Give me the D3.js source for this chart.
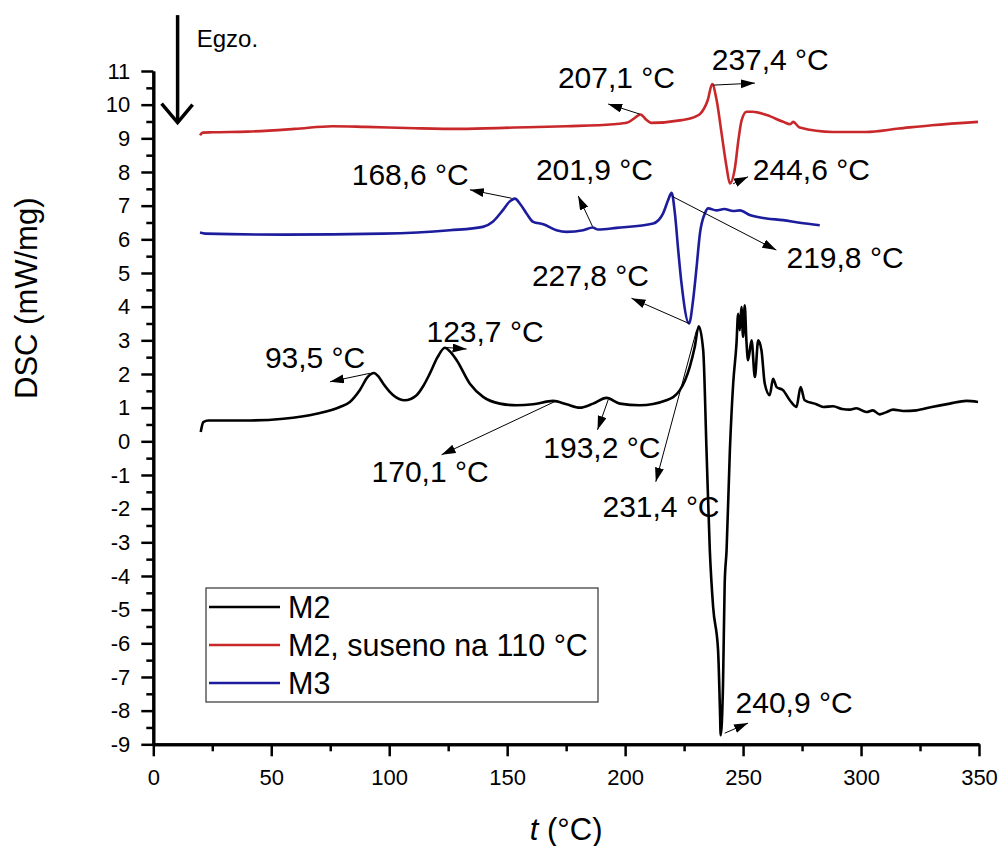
<!DOCTYPE html>
<html>
<head>
<meta charset="utf-8">
<script src="https://cdn.jsdelivr.net/npm/d3@7"></script>
<style>
  body { margin: 0; background: #fff; }
  text { font-family: "Liberation Sans", Arial, sans-serif; fill: #000; }
</style>
</head>
<body>
<div id="viz"></div>
<script>
const width = 1002;
const height = 846;

// DSC curves, [t (°C), DSC (mW/mg)]
const m2Points = [
  [20.1, 0.28], [21.2, 0.57], [23.3, 0.62], [41, 0.62], [55.1, 0.67], [69.2, 0.82], [79.1, 1.02],
  [83.3, 1.17], [87.5, 1.52], [91, 1.92], [93.5, 2.03], [95.5, 1.92], [97.5, 1.71], [101.7, 1.37],
  [106.6, 1.22], [111.6, 1.37], [114.5, 1.65], [117.2, 2.01], [120.5, 2.5], [123.6, 2.78],
  [126, 2.65], [128.6, 2.41], [134.2, 1.71], [139.8, 1.32], [146.9, 1.12], [154, 1.07], [161, 1.10],
  [169.5, 1.20], [175.2, 1.10], [180.8, 1.00], [186.4, 1.12], [192.1, 1.29], [197.8, 1.12],
  [206.2, 1.07], [217.5, 1.22], [223.2, 1.52], [227.4, 2.21], [229.5, 2.80], [231.2, 3.42],
  [233.1, 2.70], [234.5, -0.27], [235.9, -3.24], [237.3, -4.92], [239.4, -6.21], [240.2, -7.99],
  [240.5, -8.73], [241.5, -7.20], [242.2, -4.23], [243, -3.24], [244.4, -0.27], [245.8, 1.71],
  [247.2, 2.90], [247.9, 3.79], [248.6, 3.30], [249.3, 3.99], [250, 3.10], [250.7, 4.04],
  [251.4, 3.00], [252.1, 2.41], [253.6, 3.00], [255, 1.91], [256.4, 3.00], [257.8, 2.70],
  [259.2, 1.71], [261.3, 1.37], [262.7, 1.86], [264.2, 1.61], [266.9, 1.52], [269.8, 1.22],
  [272.6, 1.02], [274.4, 1.61], [276.1, 1.22], [281.1, 1.10], [284, 1.02], [288.1, 1.04],
  [292, 0.96], [295.2, 0.94], [298, 0.98], [302.3, 0.87], [305, 0.92], [307.9, 0.80],
  [310.5, 0.86], [313.6, 0.94], [318, 0.90], [323.5, 0.92], [330, 1.02], [337.6, 1.12],
  [344.7, 1.20], [349.6, 1.17]
];
const m2DriedPoints = [
  [19.8, 9.09], [21, 9.17], [25, 9.18], [40, 9.2], [60, 9.28], [76, 9.36], [90, 9.34], [111, 9.3],
  [130, 9.28], [153, 9.32], [175, 9.36], [195, 9.42], [201, 9.47], [204, 9.6], [206.5, 9.71],
  [209, 9.55], [211, 9.46], [224, 9.54], [230, 9.65], [232, 9.74], [235, 10.13], [236.9, 10.61],
  [238.8, 10.13], [240.9, 9.14], [243, 8.15], [244.4, 7.66], [246.6, 8.15], [248, 8.94],
  [249.4, 9.54], [251.5, 9.79], [254, 9.79], [260, 9.69], [267, 9.49], [270, 9.42], [271.2, 9.49],
  [274, 9.32], [288, 9.19], [302, 9.19], [316, 9.29], [330, 9.39], [349.6, 9.49]
];
const m3Points = [
  [19.8, 6.2], [22, 6.17], [55, 6.14], [97.3, 6.17], [125.7, 6.27], [139.7, 6.37], [143.9, 6.52],
  [148.1, 6.86], [151, 7.12], [153.3, 7.21], [155.5, 7.05], [158.2, 6.77], [161, 6.52],
  [165.3, 6.45], [170.9, 6.27], [175.2, 6.22], [182.2, 6.27], [186.2, 6.35], [188.6, 6.29],
  [196.4, 6.34], [211.9, 6.47], [216.1, 6.77], [218.2, 7.16], [219.7, 7.38], [221.1, 6.77],
  [222.5, 5.68], [223.9, 4.69], [227.1, 3.50], [228.8, 4.19], [230.3, 5.18], [231.7, 6.17],
  [233.8, 6.77], [235.2, 6.92], [238.7, 6.86], [242, 6.90], [245.8, 6.84], [248.6, 6.86],
  [252.8, 6.72], [259.9, 6.62], [266.9, 6.57], [274, 6.49], [282.5, 6.42]
];

const seriesNames = ['M2', 'M2, suseno na 110 °C', 'M3'];
const seriesColors = ['#000000', '#c9282b', '#1c1c9c'];

const xTicks = [0, 50, 100, 150, 200, 250, 300, 350];
const xMinorTicks = [25, 75, 125, 175, 225, 275, 325];
const yTicks = d3.range(-9, 12);
const yMinorTicks = d3.range(-8.5, 11, 1);

// peak labels: text position, arrow tail and arrow head, all in data units
const peakLabels = [
  { label: '207,1 °C', tx: 171.5, ty: 10.50, x1: 206.2, y1: 9.72, x2: 192.8, y2: 10.02 },
  { label: '237,4 °C', tx: 236.7, ty: 11.03, x1: 237.3, y1: 10.58, x2: 255.0, y2: 10.64 },
  { label: '244,6 °C', tx: 254.1, ty: 7.76, x1: 245.8, y1: 7.65, x2: 252.1, y2: 7.86 },
  { label: '168,6 °C', tx: 84.1, ty: 7.62, x1: 151.9, y1: 7.22, x2: 134.2, y2: 7.47 },
  { label: '201,9 °C', tx: 162.2, ty: 7.76, x1: 186.2, y1: 6.38, x2: 180.1, y2: 7.29 },
  { label: '219,8 °C', tx: 268.4, ty: 5.14, x1: 220.1, y1: 7.27, x2: 264.1, y2: 5.68 },
  { label: '227,8 °C', tx: 160.5, ty: 4.62, x1: 227.4, y1: 3.49, x2: 202.7, y2: 4.25 },
  { label: '93,5 °C', tx: 47.3, ty: 2.17, x1: 91.8, y1: 2.02, x2: 74.9, y2: 1.77 },
  { label: '123,7 °C', tx: 115.8, ty: 2.96, x1: 123.6, y1: 2.79, x2: 132.8, y2: 2.74 },
  { label: '170,1 °C', tx: 92.5, ty: -1.20, x1: 170.2, y1: 1.18, x2: 122.2, y2: -0.40 },
  { label: '193,2 °C', tx: 165.3, ty: -0.50, x1: 192.8, y1: 1.23, x2: 188.3, y2: 0.34 },
  { label: '231,4 °C', tx: 190.4, ty: -2.24, x1: 230.3, y1: 3.31, x2: 213.0, y2: -1.20 },
  { label: '240,9 °C', tx: 246.8, ty: -8.08, x1: 242.2, y1: -8.67, x2: 252.1, y2: -8.37 }
];

const svg = d3.select('#viz')
  .append('svg')
    .attr('width', width)
    .attr('height', height);

svg.append('rect').attr('width', width).attr('height', height).attr('fill', '#fff');

const scaleX = d3.scaleLinear().domain([0, 350]).range([153.3, 979]);
const scaleY = d3.scaleLinear().domain([-9, 11]).range([744.3, 71]);

// arrow head marker
svg.append('defs')
  .append('marker')
    .attr('id', 'head')
    .attr('markerUnits', 'userSpaceOnUse')
    .attr('markerWidth', 15)
    .attr('markerHeight', 10)
    .attr('refX', 14)
    .attr('refY', 4.5)
    .attr('orient', 'auto')
  .append('path')
    .attr('d', 'M0,0 L14,4.5 L0,9 Z')
    .attr('fill', '#000');

// axes
const styleAxis = (g, w) => {
  g.select('.domain').attr('stroke', '#000').attr('stroke-width', 3);
  g.selectAll('.tick line').attr('stroke', '#000').attr('stroke-width', w);
};
const plainNumber = d => String(d); // hyphen minus, like the original

svg.append('g')
    .attr('transform', `translate(0,${scaleY(-9)})`)
  .call(d3.axisBottom(scaleX).tickValues(xMinorTicks).tickSize(7).tickFormat('').tickSizeOuter(0))
  .call(g => styleAxis(g, 2.5));
svg.append('g')
    .attr('transform', `translate(0,${scaleY(-9)})`)
  .call(d3.axisBottom(scaleX).tickValues(xTicks).tickSize(12).tickPadding(13).tickFormat(plainNumber).tickSizeOuter(0))
  .call(g => styleAxis(g, 2.5))
  .call(g => g.selectAll('text').style('font-size', '22px').attr('fill', '#000'));

svg.append('g')
    .attr('transform', `translate(${scaleX(0)},0)`)
  .call(d3.axisLeft(scaleY).tickValues(yMinorTicks).tickSize(7).tickFormat('').tickSizeOuter(0))
  .call(g => styleAxis(g, 2.5));
svg.append('g')
    .attr('transform', `translate(${scaleX(0)},0)`)
  .call(d3.axisLeft(scaleY).tickValues(yTicks).tickSize(12).tickPadding(11).tickFormat(plainNumber).tickSizeOuter(0))
  .call(g => styleAxis(g, 2.5))
  .call(g => g.selectAll('text').style('font-size', '22px').attr('fill', '#000'));

// axis titles
svg.append('text')
    .attr('transform', `translate(37,${(scaleY(7.5) + scaleY(1)) / 2}) rotate(-90)`)
    .attr('text-anchor', 'middle')
    .style('font-size', '31px')
    .text('DSC (mW/mg)');

const xTitle = svg.append('text')
    .attr('x', (scaleX(0) + scaleX(350)) / 2)
    .attr('y', 840)
    .attr('text-anchor', 'middle')
    .style('font-size', '31px');
xTitle.append('tspan').style('font-style', 'italic').text('t');
xTitle.append('tspan').text(' (°C)');

// curves
const line = d3.line()
  .x(d => scaleX(d[0]))
  .y(d => scaleY(d[1]))
  .curve(d3.curveMonotoneX);

svg.append('g')
  .selectAll('path')
  .data([m2Points, m2DriedPoints, m3Points])
  .join('path')
    .attr('d', line)
    .attr('fill', 'none')
    .attr('stroke', (d, i) => seriesColors[i])
    .attr('stroke-width', 2.6)
    .attr('stroke-linejoin', 'round');

// peak labels with arrows
const labels = svg.append('g');
labels.selectAll('line')
  .data(peakLabels)
  .join('line')
    .attr('x1', d => scaleX(d.x1))
    .attr('y1', d => scaleY(d.y1))
    .attr('x2', d => scaleX(d.x2))
    .attr('y2', d => scaleY(d.y2))
    .attr('stroke', '#000')
    .attr('stroke-width', 1)
    .attr('marker-end', 'url(#head)');
labels.selectAll('text')
  .data(peakLabels)
  .join('text')
    .attr('x', d => scaleX(d.tx))
    .attr('y', d => scaleY(d.ty))
    .style('font-size', '30px')
    .text(d => d.label);

// exo direction arrow
const ax = scaleX(10.3);
const ayTop = scaleY(12.66);
const ayTip = scaleY(9.47);
svg.append('line')
    .attr('x1', ax).attr('y1', ayTop)
    .attr('x2', ax).attr('y2', ayTip)
    .attr('stroke', '#000').attr('stroke-width', 3.5);
svg.append('polyline')
    .attr('points', `${ax - 16},${ayTip - 19} ${ax},${ayTip} ${ax + 15},${ayTip - 18}`)
    .attr('fill', 'none').attr('stroke', '#000').attr('stroke-width', 3.5);
svg.append('text')
    .attr('x', scaleX(18.4))
    .attr('y', scaleY(11.71))
    .style('font-size', '24px')
    .text('Egzo.');

// legend
const legend = svg.append('g');
legend.append('rect')
    .attr('x', 206).attr('y', 588)
    .attr('width', 392).attr('height', 114)
    .attr('fill', '#fff').attr('stroke', '#333').attr('stroke-width', 1.2);
const rows = legend.selectAll('g')
  .data(seriesNames)
  .join('g')
    .attr('transform', (d, i) => `translate(0,${607 + i * 38})`);
rows.append('line')
    .attr('x1', 209).attr('x2', 280)
    .attr('stroke', (d, i) => seriesColors[i])
    .attr('stroke-width', 2.6);
rows.append('text')
    .attr('x', 288)
    .attr('y', 11)
    .style('font-size', '30.5px')
    .text(d => d);
</script>
</body>
</html>
